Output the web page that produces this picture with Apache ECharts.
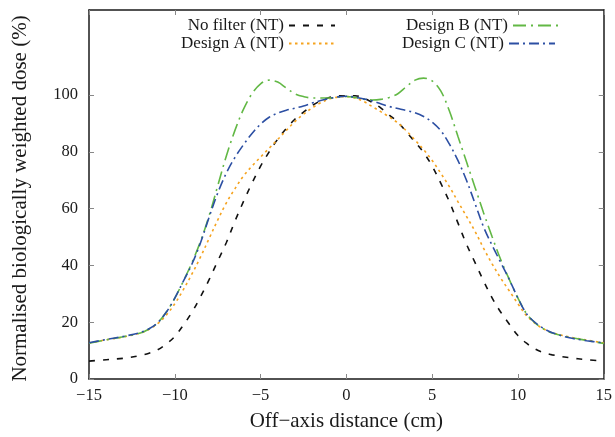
<!DOCTYPE html>
<html>
<head>
<meta charset="utf-8">
<script src="https://cdn.jsdelivr.net/npm/echarts@6/dist/echarts.min.js"></script>
<style>
  html, body { margin: 0; padding: 0; background: #fff; }
  #chart { width: 615px; height: 437px; }
</style>
</head>
<body>
<div id="chart"></div>
<script>
// off-axis position (cm)
const xPos = [-15, -14, -13, -12, -11.5, -11, -10.5, -10, -9.5, -9, -8.5, -8, -7.5, -7, -6.5, -6, -5.5, -5, -4.5, -4, -3.5, -3, -2.5, -2, -1.5, -1, -0.5,
  0, 0.5, 1, 1.5, 2, 2.5, 3, 3.5, 4, 4.5, 5, 5.5, 6, 6.5, 7, 7.5, 8, 8.5, 9, 9.5, 10, 10.5, 11, 11.5, 12, 13, 14, 15];

const noFilter = [6.3, 6.8, 7.3, 8.3, 9.1, 10.3, 12.3, 15, 19, 23.5, 29, 35, 41.5, 48, 55.5, 62.5, 69, 75, 80, 84.5, 88.3, 91.5, 94, 96.3, 98, 99.2, 99.8,
  99.8, 99.8, 99, 97.5, 95.5, 93, 90.5, 87, 83.5, 79.8, 75, 69, 62.5, 55, 47.5, 41, 34.5, 28.5, 23.5, 19.3, 15.3, 12.6, 10.6, 9.3, 8.5, 7.5, 6.8, 6.3];

const designA = [12.7, 13.8, 14.8, 16.2, 17.5, 19.5, 22.5, 26.5, 31.5, 37, 43, 49.5, 56, 62, 67, 71.5, 75, 78.2, 81.3, 84.4, 87.6, 90.7, 93.3, 95.5, 97.3, 98.6, 99.3,
  99.5, 99, 97.8, 96, 94.2, 92.3, 90.2, 87.4, 84.2, 80.8, 77, 72.5, 67.8, 62.5, 57.3, 52, 46, 40.5, 35.5, 31, 26.5, 22.3, 19.6, 17.6, 16.3, 14.8, 13.7, 12.7];

const designB = [12.6, 13.8, 14.9, 16.2, 17.6, 19.8, 23.5, 28.5, 34.5, 41, 48.5, 57.5, 68, 78.5, 87.5, 95, 100.5, 104, 105.3, 104.6, 102.5, 100.5, 99.5, 99, 99, 99, 99.3,
  99.5, 99.2, 98.6, 98.3, 98.5, 99.2, 100.5, 103, 105.3, 106, 105, 101.5, 94.5, 85.5, 76.5, 67.5, 58.5, 50, 42, 35, 28.5, 23, 19.8, 17.6, 16.2, 14.7, 13.6, 12.5];

const designC = [12.8, 13.9, 15, 16.4, 17.7, 19.8, 23.5, 28.5, 34.5, 40.5, 48, 57, 65.5, 72.5, 78, 82.5, 86.5, 89.8, 92.2, 93.7, 94.7, 95.4, 96.2, 97.2, 98.1, 98.8, 99.4,
  99.6, 99.3, 98.7, 98, 97, 96, 95.3, 94.6, 93.8, 92.5, 90.5, 87.5, 82.8, 77, 70, 61.8, 53.5, 47, 41, 35, 28.5, 23, 19.9, 17.8, 16.3, 14.5, 13.5, 12.7];

const xTicks = [-15, -10, -5, 0, 5, 10, 15];
const yTicks = [0, 20, 40, 60, 80, 100];

const font = 'Liberation Serif, Times New Roman, serif';
const ink = '#1a1a1a';

function pairs(ys) {
  return xPos.map((x, i) => [x, ys[i]]);
}

function line(name, ys, color, dash) {
  return {
    name: name,
    type: 'line',
    data: pairs(ys),
    smooth: 0.35,
    symbol: 'none',
    xAxisIndex: 0,
    yAxisIndex: 0,
    lineStyle: { color: color, width: 1.6, type: dash },
    itemStyle: { color: color }
  };
}

function legendAt(name, right, top) {
  return {
    data: [name],
    right: right,
    top: top,
    align: 'right',
    itemWidth: 46,
    itemHeight: 10,
    itemStyle: { opacity: 0 },
    textStyle: { fontFamily: font, fontSize: 17, color: ink },
    selectedMode: false
  };
}

let chart = echarts.init(document.getElementById('chart'));
let option = {
  backgroundColor: '#fff',
  animation: false,
  grid: { left: 89, right: 10, top: 10, bottom: 58 },
  legend: [
    legendAt('No filter (NT)', 274, 12),
    legendAt('Design A (NT)', 274, 30),
    legendAt('Design B (NT)', 50, 12),
    legendAt('Design C (NT)', 54, 30)
  ],
  xAxis: [{
    type: 'value', min: -15, max: 15, interval: 5,
    name: 'Off\u2212axis distance (cm)', nameLocation: 'middle', nameGap: 32,
    nameTextStyle: { fontFamily: font, fontSize: 21, color: ink },
    axisLine: { onZero: false, lineStyle: { color: ink, width: 1.5 } },
    axisTick: { inside: true, length: 5, lineStyle: { color: '#888' } },
    axisLabel: {
      margin: 8, fontFamily: font, fontSize: 16.5, color: ink,
      customValues: xTicks,
      formatter: v => String(v).replace('-', '\u2212')
    },
    splitLine: { show: false }
  }, {
    type: 'value', position: 'top', min: -15, max: 15, interval: 5,
    axisLine: { onZero: false, lineStyle: { color: ink, width: 1.5 } },
    axisTick: { inside: true, length: 5, lineStyle: { color: '#888' } },
    axisLabel: { show: false },
    splitLine: { show: false }
  }],
  yAxis: [{
    type: 'value', min: 0, max: 130,
    name: 'Normalised biologically weighted dose (%)', nameLocation: 'middle', nameGap: 58,
    nameTextStyle: { fontFamily: font, fontSize: 21, color: ink, padding: [0, 8, 0, 0] },
    axisLine: { show: true, onZero: false, lineStyle: { color: ink, width: 1.5 } },
    axisTick: { show: true, inside: true, length: 5, customValues: yTicks, lineStyle: { color: '#888' } },
    axisLabel: { margin: 11, fontFamily: font, fontSize: 16.5, color: ink, customValues: yTicks },
    splitLine: { show: false }
  }, {
    type: 'value', position: 'right', min: 0, max: 130,
    axisLine: { show: true, onZero: false, lineStyle: { color: ink, width: 1.5 } },
    axisTick: { show: true, inside: true, length: 5, customValues: yTicks, lineStyle: { color: '#888' } },
    axisLabel: { show: false },
    splitLine: { show: false }
  }],
  series: [
    line('No filter (NT)', noFilter, '#111111', [6, 8]),
    line('Design A (NT)', designA, '#f5a31f', [2.5, 3.5]),
    line('Design B (NT)', designB, '#62b845', [13, 5, 2, 5]),
    line('Design C (NT)', designC, '#2c4fa3', [10, 4, 2, 4])
  ]
};
chart.setOption(option);
</script>
</body>
</html>
